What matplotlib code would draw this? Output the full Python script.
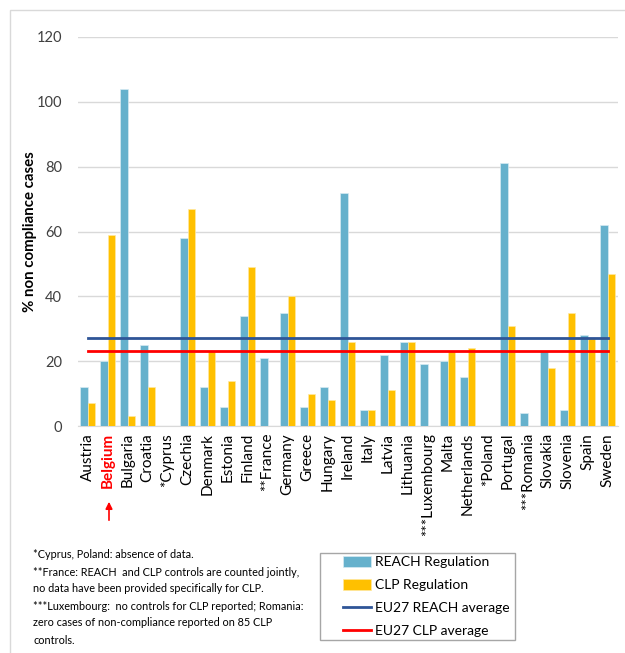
import matplotlib
matplotlib.use("Agg")
import matplotlib.pyplot as plt
import numpy as np
from matplotlib.patches import Rectangle, FancyArrowPatch

plt.rcParams['font.family'] = ['Lato', 'DejaVu Sans']

countries = ["Austria", "Belgium", "Bulgaria", "Croatia", "*Cyprus", "Czechia", "Denmark",
             "Estonia", "Finland", "**France", "Germany", "Greece", "Hungary", "Ireland",
             "Italy", "Latvia", "Lithuania", "***Luxembourg", "Malta", "Netherlands",
             "*Poland", "Portugal", "***Romania", "Slovakia", "Slovenia", "Spain", "Sweden"]
reach = [12, 20, 104, 25, np.nan, 58, 12, 6, 34, 21, 35, 6, 12, 72,
         5, 22, 26, 19, 20, 15, np.nan, 81, 4, 23, 5, 28, 62]
clp = [7, 59, 3, 12, np.nan, 67, 23, 14, 49, np.nan, 40, 10, 8, 26,
       5, 11, 26, np.nan, 23, 24, np.nan, 31, 0, 18, 35, 27, 47]
reach_avg = 27
clp_avg = 23
yticks = [0, 20, 40, 60, 80, 100, 120]

W, H = 625, 653
fig = plt.figure(figsize=(W / 100, H / 100), dpi=100)

def fx(px):
    return px / W

def fy(py):
    return 1 - py / H

ax = fig.add_axes([fx(77.5), fy(426), fx(617.7) - fx(77.5), fy(37) - fy(426)])
x = np.arange(len(countries))
bw = 0.385
c_reach = "#66B1CC"
c_clp = "#FFC000"
b1 = ax.bar(x - bw / 2, reach, bw, color=c_reach, edgecolor="#D6EBF2", linewidth=0.5,
            label="REACH Regulation", zorder=3)
b2 = ax.bar(x + bw / 2, clp, bw, color=c_clp, edgecolor="#FFE9A0", linewidth=0.5,
            label="CLP Regulation", zorder=3)
l1, = ax.plot(x, [reach_avg] * len(x), color="#2F5597", lw=2, label="EU27 REACH average", zorder=4)
l2, = ax.plot(x, [clp_avg] * len(x), color="#FF0000", lw=2, label="EU27 CLP average", zorder=4)

ax.set_xlim(-0.5, len(x) - 0.5)
ax.set_ylim(0, 120)
ax.set_yticks(yticks)
ax.set_yticklabels([str(t) for t in yticks], fontsize=10.5, color="#404040")
ax.yaxis.grid(True, color="#D9D9D9", lw=1, zorder=0)
ax.tick_params(axis='y', length=0, pad=11)
ax.tick_params(axis='x', length=0, pad=5)
for s in ["top", "right", "left"]:
    ax.spines[s].set_visible(False)
ax.spines["bottom"].set_color("#D9D9D9")
ax.set_xticks(x)
ax.set_xticklabels(countries, rotation=90, fontsize=11, color="black")
for lbl in ax.get_xticklabels():
    if lbl.get_text() == "Belgium":
        lbl.set_color("#FF0000")
        lbl.set_fontweight("bold")
ax.set_ylabel("% non compliance cases", fontsize=10.8, fontweight="bold", labelpad=0)

# Arrow under Belgium
arr = FancyArrowPatch((fx(109), fy(523)), (fx(109), fy(499)), transform=fig.transFigure,
                      arrowstyle="-|>", mutation_scale=10, color="#FF0000", lw=1.2)
fig.patches.append(arr)

# chart border
fig.patches.append(Rectangle((fx(10), fy(700)), fx(700), fy(10) - fy(700), transform=fig.transFigure,
                             fill=False, edgecolor="#D9D9D9", lw=1))

notes = ["*Cyprus, Poland: absence of data.",
         "**France: REACH  and CLP controls are counted jointly,",
         "no data have been provided specifically for CLP.",
         "***Luxembourg:  no controls for CLP reported; Romania:",
         "zero cases of non-compliance reported on 85 CLP",
         "controls."]
for i, t in enumerate(notes):
    fig.text(fx(33), fy(555 + i * 17), t, fontsize=7.8, va="center", ha="left", color="black")

# legend box frame
fig.patches.append(Rectangle((fx(320), fy(640)), fx(515) - fx(320), fy(553) - fy(640),
                             transform=fig.transFigure, fill=False, edgecolor="#A6A6A6", lw=1))
leg = fig.legend(handles=[b1, b2, l1, l2], loc="upper left",
                 bbox_to_anchor=(fx(343), fy(556)), bbox_transform=fig.transFigure,
                 fontsize=10, frameon=False,
                 handlelength=2.0, handleheight=0.8, handletextpad=0.3, labelspacing=0.78,
                 borderpad=0.0, borderaxespad=0)

fig.savefig("out.png", dpi=100)
